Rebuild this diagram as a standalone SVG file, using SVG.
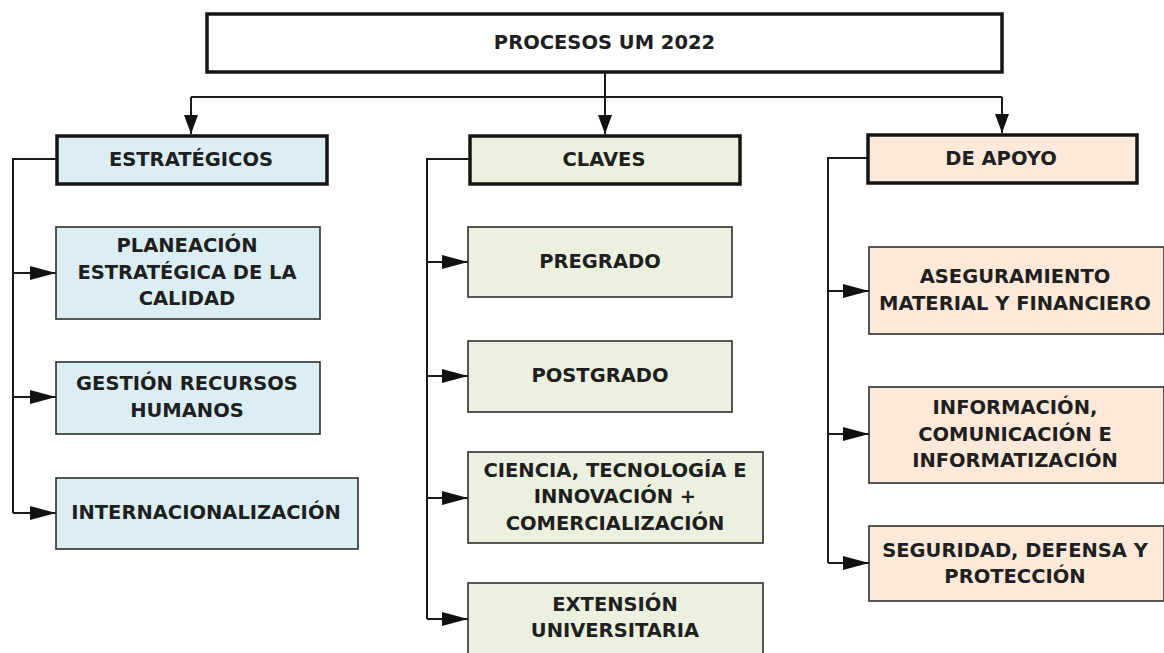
<svg xmlns="http://www.w3.org/2000/svg" width="1164" height="653" viewBox="0 0 1164 653">
<style>
text{font-family:"DejaVu Sans","Liberation Sans",sans-serif;font-weight:bold;font-size:19.5px;fill:#1f1f1f;text-anchor:middle}
.hdr{stroke:#141414;stroke-width:3.5}
.box{stroke:#2e2e2e;stroke-width:1.6}
.blue{fill:#DBEEF3}
.green{fill:#EBF1DE}
.peach{fill:#FDE9D9}
.ln{fill:none;stroke:#1a1a1a;stroke-width:2}
</style>
<defs>
<marker id="ah" markerUnits="userSpaceOnUse" markerWidth="26" markerHeight="14" viewBox="0 0 26 14" refX="26" refY="7" orient="auto">
<path d="M0,0 L26,7 L0,14 z" fill="#111"/>
</marker>
<marker id="ad" markerUnits="userSpaceOnUse" markerWidth="19" markerHeight="14" viewBox="0 0 19 14" refX="19" refY="7" orient="auto">
<path d="M0,0 L19,7 L0,14 z" fill="#111"/>
</marker>
</defs>
<rect width="1164" height="653" fill="#fff"/>
<g id="connectors">
<path class="ln" d="M605,72 V134" marker-end="url(#ad)"/>
<path class="ln" d="M191,97 H1002"/>
<path class="ln" d="M191,97 V134" marker-end="url(#ad)"/>
<path class="ln" d="M1002,97 V133" marker-end="url(#ad)"/>
<path class="ln" d="M56,159 H13 V513"/>
<path class="ln" d="M13,273 H56" marker-end="url(#ah)"/>
<path class="ln" d="M13,397 H56" marker-end="url(#ah)"/>
<path class="ln" d="M13,513 H56" marker-end="url(#ah)"/>
<path class="ln" d="M469,159 H427 V619"/>
<path class="ln" d="M427,262 H468" marker-end="url(#ah)"/>
<path class="ln" d="M427,376 H468" marker-end="url(#ah)"/>
<path class="ln" d="M427,498 H468" marker-end="url(#ah)"/>
<path class="ln" d="M427,619 H468" marker-end="url(#ah)"/>
<path class="ln" d="M867,158 H828 V563"/>
<path class="ln" d="M828,291 H869" marker-end="url(#ah)"/>
<path class="ln" d="M828,434 H869" marker-end="url(#ah)"/>
<path class="ln" d="M828,563 H869" marker-end="url(#ah)"/>
</g>
<g id="procesos">
<rect class="hdr" x="207" y="14" width="795" height="58" fill="#fff"/>
<text x="604.5" y="49">PROCESOS UM 2022</text>
</g>
<g id="estrategicos">
<rect class="hdr blue" x="57" y="136" width="270" height="48"/>
<text x="191" y="166">ESTRATÉGICOS</text>
</g>
<g id="planeacion">
<rect class="box blue" x="56" y="227" width="264" height="92"/>
<text x="187" y="252">PLANEACIÓN</text>
<text x="187" y="279">ESTRATÉGICA DE LA</text>
<text x="187" y="305">CALIDAD</text>
</g>
<g id="gestion">
<rect class="box blue" x="56" y="362" width="264" height="72"/>
<text x="187" y="390">GESTIÓN RECURSOS</text>
<text x="187" y="417">HUMANOS</text>
</g>
<g id="internacionalizacion">
<rect class="box blue" x="56" y="478" width="302" height="71"/>
<text x="206" y="519">INTERNACIONALIZACIÓN</text>
</g>
<g id="claves">
<rect class="hdr green" x="470" y="136" width="270" height="48"/>
<text x="604" y="166">CLAVES</text>
</g>
<g id="pregrado">
<rect class="box green" x="468" y="227" width="264" height="70"/>
<text x="600" y="268">PREGRADO</text>
</g>
<g id="postgrado">
<rect class="box green" x="468" y="341" width="264" height="71"/>
<text x="600" y="382">POSTGRADO</text>
</g>
<g id="ciencia">
<rect class="box green" x="468" y="452" width="295" height="91"/>
<text x="615" y="477">CIENCIA, TECNOLOGÍA E</text>
<text x="615" y="503">INNOVACIÓN +</text>
<text x="615" y="530">COMERCIALIZACIÓN</text>
</g>
<g id="extension">
<rect class="box green" x="468" y="583" width="295" height="80"/>
<text x="615" y="611">EXTENSIÓN</text>
<text x="615" y="637">UNIVERSITARIA</text>
</g>
<g id="deapoyo">
<rect class="hdr peach" x="868" y="135" width="269" height="48"/>
<text x="1001" y="165">DE APOYO</text>
</g>
<g id="aseguramiento">
<rect class="box peach" x="869" y="247" width="295" height="87"/>
<text x="1015" y="283">ASEGURAMIENTO</text>
<text x="1015" y="310">MATERIAL Y FINANCIERO</text>
</g>
<g id="informacion">
<rect class="box peach" x="869" y="387" width="295" height="96"/>
<text x="1015" y="414">INFORMACIÓN,</text>
<text x="1015" y="441">COMUNICACIÓN E</text>
<text x="1015" y="467">INFORMATIZACIÓN</text>
</g>
<g id="seguridad">
<rect class="box peach" x="869" y="526" width="295" height="75"/>
<text x="1015" y="557">SEGURIDAD, DEFENSA Y</text>
<text x="1015" y="583">PROTECCIÓN</text>
</g>
</svg>
